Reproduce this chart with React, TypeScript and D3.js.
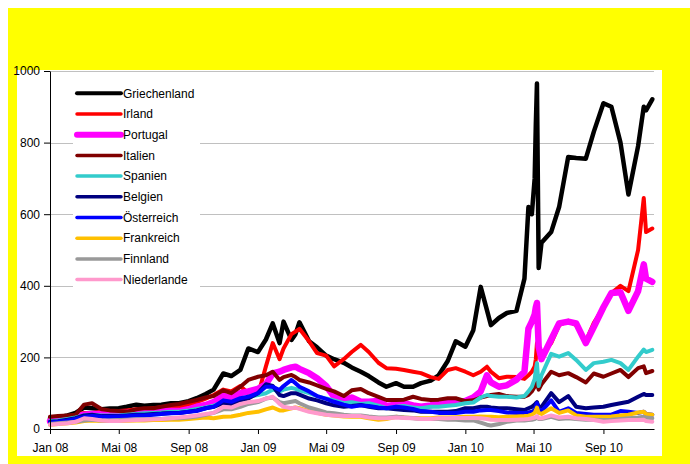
import React, { useEffect, useRef } from 'react';
import * as d3 from 'd3';

// semi-monthly readings, a few extra days where spreads jumped
const dates = [
  '2008-01-01', '2008-01-15', '2008-02-01', '2008-02-15', '2008-03-01', '2008-03-15', '2008-04-01', '2008-04-15', '2008-05-01', '2008-05-15',
  '2008-06-01', '2008-06-15', '2008-07-01', '2008-07-15', '2008-08-01', '2008-08-15', '2008-09-01', '2008-09-15', '2008-10-01', '2008-10-15',
  '2008-11-01', '2008-11-15', '2008-12-01', '2008-12-15', '2009-01-01', '2009-01-15', '2009-01-27', '2009-02-08', '2009-02-15', '2009-03-01',
  '2009-03-08', '2009-03-15', '2009-04-01', '2009-04-15', '2009-05-01', '2009-05-15', '2009-06-01', '2009-06-15', '2009-07-01', '2009-07-15',
  '2009-08-01', '2009-08-15', '2009-09-01', '2009-09-15', '2009-10-01', '2009-10-15', '2009-11-01', '2009-11-15', '2009-12-01', '2009-12-15',
  '2010-01-01', '2010-01-15', '2010-01-28', '2010-02-08', '2010-02-15', '2010-03-01', '2010-03-15', '2010-04-01', '2010-04-15', '2010-04-22',
  '2010-04-28', '2010-05-03', '2010-05-05', '2010-05-07', '2010-05-10', '2010-05-15', '2010-06-01', '2010-06-15', '2010-07-01', '2010-07-15',
  '2010-08-01', '2010-08-15', '2010-09-01', '2010-09-15', '2010-10-01', '2010-10-15', '2010-11-01', '2010-11-11', '2010-11-15', '2010-11-26',
];

const griechenland = [
  30, 32, 38, 45, 60, 58, 55, 57, 58, 62,
  68, 65, 67, 68, 72, 72, 78, 86, 98, 110,
  155, 148, 165, 225, 215, 250, 295, 240, 300, 249,
  265, 298, 245, 228, 205, 195, 185, 172, 160, 148,
  130, 118, 128, 118, 118, 128, 135, 150, 190, 245,
  230, 276, 397, 332, 290, 310, 324, 330, 420, 620,
  600, 700, 850, 965, 450, 520, 550, 620, 760, 757,
  755, 830, 910, 900, 800, 655, 790, 900, 890, 921,
];
const irland = [
  28, 30, 35, 40, 45, 45, 48, 50, 50, 52,
  55, 55, 58, 60, 62, 62, 68, 75, 85, 95,
  110, 105, 120, 100, 95, 175, 240, 195, 225, 265,
  272, 280, 245, 212, 205, 175, 195, 215, 235, 215,
  185, 170, 168, 165, 160, 156, 145, 140, 165, 170,
  160, 150, 160, 174, 160, 142, 146, 145, 140, 150,
  160, 175, 195, 240, 215, 205, 240, 290, 302, 290,
  245, 296, 340, 380, 400, 385, 500, 645, 550, 560,
];
const portugal = [
  22, 24, 30, 35, 40, 42, 42, 44, 45, 45,
  48, 47, 48, 50, 50, 50, 55, 62, 67, 75,
  92, 88, 100, 105, 112, 125, 155, 160, 165, 172,
  174, 168, 156, 142, 120, 90, 81, 88, 76, 76,
  78, 64, 68, 72, 66, 62, 66, 72, 72, 75,
  78, 88, 105, 150, 130, 118, 122, 138, 160, 280,
  300, 320, 340, 352, 230, 195, 250, 295, 300, 295,
  240, 285, 340, 380, 382, 330, 385, 460, 420, 411,
];
const italien = [
  34, 36, 38, 40, 68, 72, 55, 52, 50, 48,
  55, 58, 58, 62, 67, 70, 76, 81, 88, 92,
  108, 100, 118, 137, 146, 150, 160, 137, 145, 151,
  145, 137, 130, 122, 112, 105, 92, 108, 112, 100,
  90, 81, 81, 82, 90, 84, 81, 82, 86, 86,
  78, 80, 88, 92, 95, 98, 92, 90, 90, 95,
  105, 118, 125, 130, 110, 125, 160, 150, 156, 145,
  130, 155, 146, 155, 165, 145, 170, 175, 156, 162,
];
const spanien = [
  22, 24, 28, 32, 38, 40, 38, 38, 38, 40,
  42, 44, 45, 46, 48, 48, 52, 56, 60, 65,
  75, 72, 80, 90, 95, 100, 110, 105, 110, 115,
  112, 108, 100, 92, 85, 80, 72, 75, 70, 72,
  65, 58, 62, 64, 60, 58, 62, 62, 65, 67,
  72, 74, 88, 95, 92, 90, 90, 88, 92, 105,
  118, 140, 165, 184, 120, 150, 210, 202, 212, 193,
  165, 184, 188, 193, 184, 165, 202, 222, 215, 221,
];
const belgien = [
  20, 22, 26, 30, 38, 40, 36, 36, 36, 38,
  40, 40, 42, 43, 45, 45, 48, 52, 58, 62,
  72, 70, 80, 85, 100, 125, 120, 95, 92, 100,
  100, 96, 85, 80, 72, 66, 62, 64, 67, 62,
  58, 58, 55, 53, 52, 48, 48, 48, 48, 50,
  58, 58, 62, 62, 60, 58, 58, 55, 53, 58,
  62, 68, 72, 75, 62, 62, 100, 75, 92, 62,
  58, 60, 62, 67, 72, 76, 90, 98, 95, 95,
];
const oesterreich = [
  18, 20, 24, 28, 34, 36, 34, 34, 35, 36,
  38, 38, 40, 42, 44, 45, 48, 50, 58, 62,
  80, 76, 86, 90, 100, 118, 118, 109, 120, 137,
  128, 118, 105, 92, 84, 76, 68, 62, 66, 64,
  60, 58, 62, 60, 56, 50, 48, 45, 45, 45,
  48, 48, 52, 53, 53, 50, 46, 45, 45, 46,
  48, 52, 62, 72, 55, 50, 80, 48, 58, 45,
  42, 40, 40, 40, 50, 48, 45, 48, 42, 40,
];
const frankreich = [
  12, 14, 16, 18, 22, 24, 22, 22, 22, 23,
  24, 24, 25, 25, 26, 26, 28, 30, 32, 30,
  34, 35, 40, 45, 48, 55, 60, 52, 52, 58,
  60, 58, 50, 45, 40, 38, 35, 34, 34, 30,
  26, 28, 34, 32, 31, 30, 30, 32, 32, 33,
  34, 34, 35, 34, 34, 33, 34, 35, 36, 37,
  40, 45, 52, 60, 45, 42, 58, 45, 52, 38,
  34, 34, 34, 35, 38, 40, 46, 48, 42, 40,
];
const finnland = [
  14, 16, 18, 20, 24, 26, 24, 24, 25, 26,
  27, 27, 28, 28, 30, 30, 32, 35, 40, 45,
  55, 55, 62, 70, 75, 85, 88, 75, 72, 76,
  78, 72, 60, 54, 46, 44, 40, 38, 38, 35,
  32, 32, 34, 32, 30, 28, 28, 28, 26, 26,
  24, 24, 18, 12, 10, 14, 20, 24, 24, 25,
  26, 28, 30, 32, 28, 28, 34, 28, 30, 28,
  26, 26, 25, 26, 28, 30, 32, 34, 32, 30,
];
const niederlande = [
  12, 14, 16, 20, 30, 28, 24, 22, 22, 24,
  25, 26, 27, 28, 30, 32, 35, 38, 42, 45,
  62, 60, 70, 75, 78, 85, 90, 70, 62, 58,
  60, 56, 48, 44, 40, 38, 36, 36, 36, 32,
  30, 30, 32, 31, 30, 28, 28, 30, 30, 31,
  31, 31, 30, 28, 26, 25, 25, 26, 27, 28,
  30, 32, 34, 36, 30, 30, 38, 32, 34, 30,
  28, 25, 20, 22, 24, 25, 25, 26, 22, 20,
];

const seriesNames = ['Griechenland', 'Irland', 'Portugal', 'Italien', 'Spanien', 'Belgien', 'Österreich', 'Frankreich', 'Finnland', 'Niederlande'];
const seriesValues = [griechenland, irland, portugal, italien, spanien, belgien, oesterreich, frankreich, finnland, niederlande];
const seriesColors = ['#000000', '#FF0000', '#FF00FF', '#800000', '#33CCCC', '#000080', '#0000FF', '#FFC000', '#999999', '#FF99CC'];

const yTicks = [0, 200, 400, 600, 800, 1000];
const xTickDates = ['2008-01-01', '2008-05-01', '2008-09-01', '2009-01-01', '2009-05-01', '2009-09-01', '2010-01-01', '2010-05-01', '2010-09-01'];
const xTickLabels = ['Jan 08', 'Mai 08', 'Sep 08', 'Jan 09', 'Mai 09', 'Sep 09', 'Jan 10', 'Mai 10', 'Sep 10'];

const FONT = "'Liberation Sans', Arial, sans-serif";

export default function App() {
  const ref = useRef<SVGSVGElement>(null);

  useEffect(() => {
    const svg = d3.select(ref.current);
    svg.selectAll('*').remove();
    const parse = d3.timeParse('%Y-%m-%d');

    const x = d3
      .scaleTime()
      .domain([new Date(2008, 0, 1), new Date(2010, 10, 29)])
      .range([50, 654]);
    const y = d3.scaleLinear().domain([0, 1000]).range([429, 71]);

    // chart background
    svg.append('rect').attr('width', 690).attr('height', 464).attr('fill', '#fff');
    svg.append('rect').attr('x', 8).attr('y', 8).attr('width', 682).attr('height', 456).attr('fill', '#FFFF00');
    svg.append('rect').attr('x', 17).attr('y', 70).attr('width', 645).attr('height', 386).attr('fill', '#fff');

    svg
      .append('g')
      .selectAll('line')
      .data(yTicks.filter(d => d > 0))
      .join('line')
      .attr('x1', 50)
      .attr('x2', 654)
      .attr('y1', d => Math.round(y(d)) + 0.5)
      .attr('y2', d => Math.round(y(d)) + 0.5)
      .attr('stroke', '#c0c0c0')
      .attr('stroke-width', 1);

    // legend box
    const legend = svg.append('g');
    legend.append('rect').attr('x', 73).attr('y', 82).attr('width', 127).attr('height', 210).attr('fill', '#fff');
    seriesNames.forEach((name, i) => {
      const cy = 93.3 + i * 20.7;
      legend
        .append('line')
        .attr('x1', 77)
        .attr('x2', 121)
        .attr('y1', cy)
        .attr('y2', cy)
        .attr('stroke', seriesColors[i])
        .attr('stroke-width', i === 2 ? 6 : i === 0 ? 4 : 3.5)
        .attr('stroke-linecap', 'round');
      legend
        .append('text')
        .attr('x', 123)
        .attr('y', cy)
        .attr('dy', '0.35em')
        .attr('font-family', FONT)
        .attr('font-size', 12)
        .attr('fill', '#000')
        .text(name);
    });

    const line = d3
      .line<number>()
      .x((d, i) => x(parse(dates[i]) as Date))
      .y(d => y(d));

    svg
      .append('g')
      .selectAll('path')
      .data(seriesValues)
      .join('path')
      .attr('d', d => line(d))
      .attr('fill', 'none')
      .attr('stroke', (d, i) => seriesColors[i])
      .attr('stroke-width', (d, i) => (i === 2 ? 6.5 : i === 0 ? 4.5 : 4))
      .attr('stroke-linejoin', 'round')
      .attr('stroke-linecap', 'round');

    const xAxis = d3
      .axisBottom(x)
      .tickValues(xTickDates.map(d => parse(d) as Date))
      .tickFormat((d, i) => xTickLabels[i])
      .tickSize(5)
      .tickSizeOuter(0)
      .tickPadding(9);
    const yAxis = d3
      .axisLeft(y)
      .tickValues(yTicks)
      .tickFormat(d3.format('d'))
      .tickSize(6)
      .tickSizeOuter(0)
      .tickPadding(4);

    const gx = svg.append('g').attr('transform', 'translate(0, 429)').call(xAxis);
    const gy = svg.append('g').attr('transform', 'translate(50, 0)').call(yAxis);
    [gx, gy].forEach(g => {
      g.selectAll('text').attr('font-family', FONT).attr('font-size', 12).attr('fill', '#000');
      g.selectAll('line').attr('stroke', '#000');
      g.select('.domain').attr('stroke', '#000');
    });
  }, []);

  return <svg ref={ref} width={690} height={464} style={{ position: 'absolute', left: 0, top: 0 }} />;
}
